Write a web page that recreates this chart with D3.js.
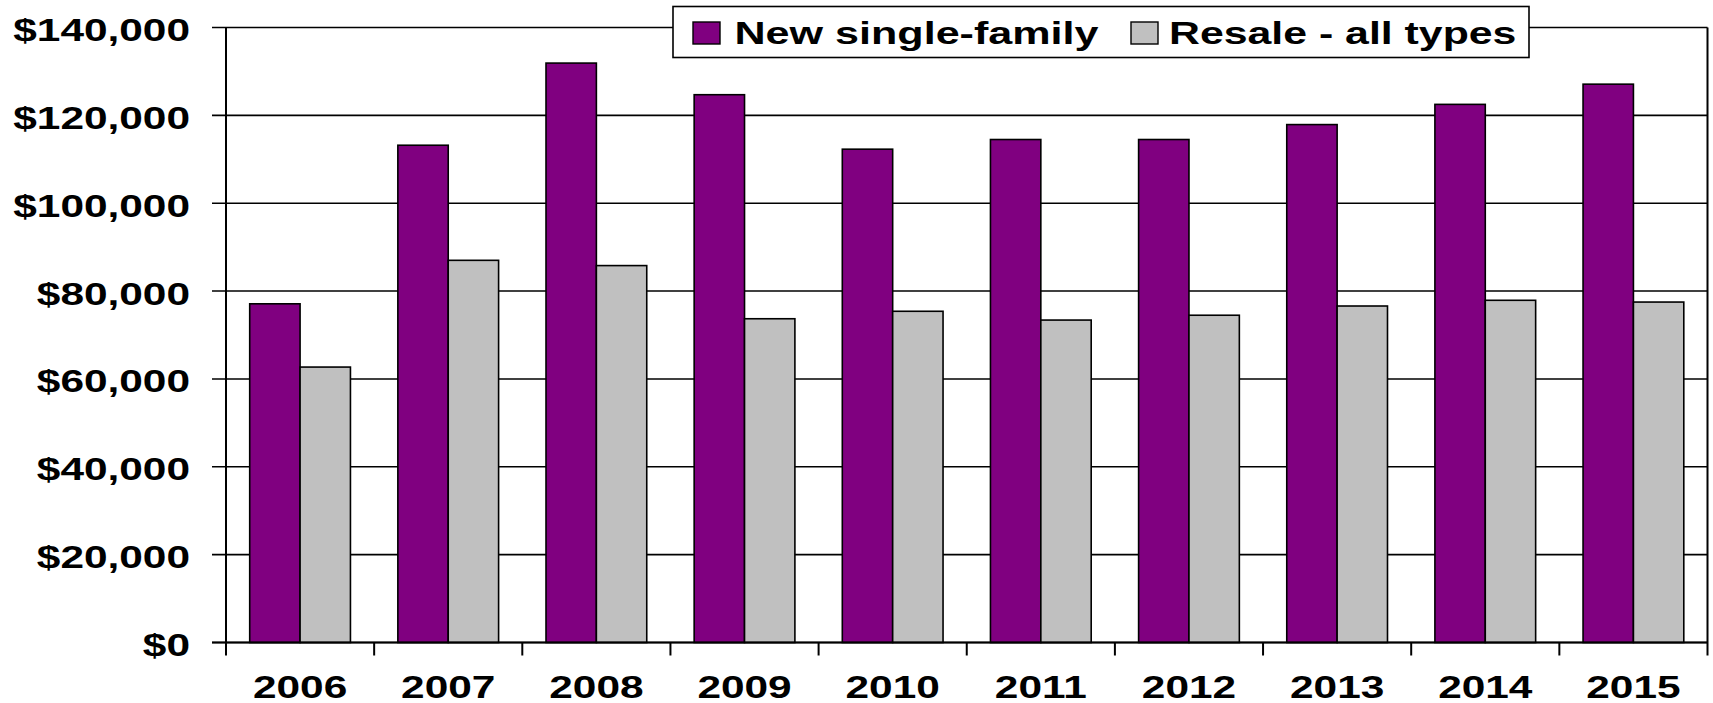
<!DOCTYPE html>
<html lang="en">
<head>
    <meta charset="UTF-8">
    <script src="https://d3js.org/d3.v7.min.js"></script>
    <style>
        html,
        body {
            margin: 0;
            height: 100%;
            overflow: hidden;
            background: #fff;
        }
        text {
            font-family: "Liberation Sans", Arial, sans-serif;
            font-weight: bold;
        }
    </style>
    <title>Home prices</title>
</head>
<body>
<svg id="svg"></svg>
    <script>
        // chart values
        const years = ['2006', '2007', '2008', '2009', '2010', '2011', '2012', '2013', '2014', '2015'];
        const newSingle = [77100, 113200, 131900, 124700, 112300, 114500, 114500, 117900, 122500, 127100];
        const resale = [62700, 87000, 85800, 73700, 75400, 73400, 74500, 76600, 77900, 77500];
        const seriesNames = ['New single-family', 'Resale - all types'];
        const seriesColors = ['#800080', '#c0c0c0'];
        const yTicks = [0, 20000, 40000, 60000, 80000, 100000, 120000, 140000];

        const width = 1713, height = 703;
        const svg = d3.select('#svg').attr('width', width).attr('height', height);
        const margin = { top: 27.5, left: 226, right: 5.5, bottom: 60.5 };
        const innerWidth = width - margin.left - margin.right;
        const innerHeight = height - margin.top - margin.bottom;
        const stretch = 1.39; // the original picture is stretched sideways
        const fs = 30.5;

        const g = svg.append('g').attr('transform', `translate(${margin.left}, ${margin.top})`);

        const x0 = d3.scaleBand().domain(years).range([0, innerWidth])
            .paddingInner(0.32).paddingOuter(0.16);
        const x1 = d3.scaleBand().domain(seriesNames).range([0, x0.bandwidth()]);
        const y = d3.scaleLinear().domain([0, 140000]).range([innerHeight, 0]);
        const color = d3.scaleOrdinal().domain(seriesNames).range(seriesColors);
        const step = x0.step();

        // gridlines, with the little tick stubs on the left
        g.selectAll('line.grid').data(yTicks).join('line')
            .attr('class', 'grid')
            .attr('x1', -14).attr('x2', innerWidth)
            .attr('y1', d => y(d)).attr('y2', d => y(d))
            .attr('stroke', '#000').attr('stroke-width', 1.6);

        // bars
        const rows = years.map((yr, i) => ({ year: yr, vals: [newSingle[i], resale[i]] }));
        g.selectAll('g.year').data(rows).join('g')
            .attr('class', 'year')
            .attr('transform', d => `translate(${x0(d.year)},0)`)
            .selectAll('rect').data(d => d.vals.map((v, k) => ({ name: seriesNames[k], v })))
            .join('rect')
            .attr('x', d => x1(d.name))
            .attr('y', d => y(d.v))
            .attr('width', x1.bandwidth())
            .attr('height', d => innerHeight - y(d.v))
            .attr('fill', d => color(d.name))
            .attr('stroke', '#000')
            .attr('stroke-width', 1.6);

        // axis lines and right border
        g.append('line').attr('x1', 0).attr('x2', 0).attr('y1', 0).attr('y2', innerHeight)
            .attr('stroke', '#000').attr('stroke-width', 2);
        g.append('line').attr('x1', innerWidth).attr('x2', innerWidth).attr('y1', 0).attr('y2', innerHeight + 13)
            .attr('stroke', '#000').attr('stroke-width', 2);
        g.append('line').attr('x1', -14).attr('x2', innerWidth).attr('y1', innerHeight).attr('y2', innerHeight)
            .attr('stroke', '#000').attr('stroke-width', 2);

        // category ticks below the baseline
        g.selectAll('line.xtick').data(years).join('line')
            .attr('class', 'xtick')
            .attr('x1', d => x0(d) - x0.paddingOuter() * step)
            .attr('x2', d => x0(d) - x0.paddingOuter() * step)
            .attr('y1', innerHeight).attr('y2', innerHeight + 13)
            .attr('stroke', '#000').attr('stroke-width', 2);

        // y labels
        const fmt = d3.format('$,');
        g.selectAll('text.ylab').data(yTicks).join('text')
            .attr('class', 'ylab')
            .attr('transform', d => `translate(-36, ${y(d) + 13.5}) scale(${stretch},1)`)
            .attr('text-anchor', 'end')
            .attr('font-size', fs)
            .text(d => fmt(d));

        // x labels
        g.selectAll('text.xlab').data(years).join('text')
            .attr('class', 'xlab')
            .attr('transform', d => `translate(${x0(d) + x0.bandwidth() / 2}, ${innerHeight + 55.5}) scale(${stretch},1)`)
            .attr('text-anchor', 'middle')
            .attr('font-size', fs)
            .text(d => d);

        // legend
        const legend = svg.append('g');
        legend.append('rect')
            .attr('x', 673).attr('y', 6.5).attr('width', 856).attr('height', 51)
            .attr('fill', '#fff').attr('stroke', '#000').attr('stroke-width', 1.6);
        const legendX = [693, 1131];
        const textX = [734.5, 1169];
        const textW = [364, 347.4];
        const items = legend.selectAll('g.item').data(seriesNames).join('g').attr('class', 'item');
        items.append('rect')
            .attr('x', (d, i) => legendX[i]).attr('y', 22)
            .attr('width', 27).attr('height', 22)
            .attr('fill', d => color(d))
            .attr('stroke', '#000').attr('stroke-width', 1.4);
        items.append('text')
            .attr('x', (d, i) => textX[i]).attr('y', 44)
            .attr('font-size', fs)
            .attr('textLength', (d, i) => textW[i])
            .attr('lengthAdjust', 'spacingAndGlyphs')
            .text(d => d);
    </script>
</body>
</html>
